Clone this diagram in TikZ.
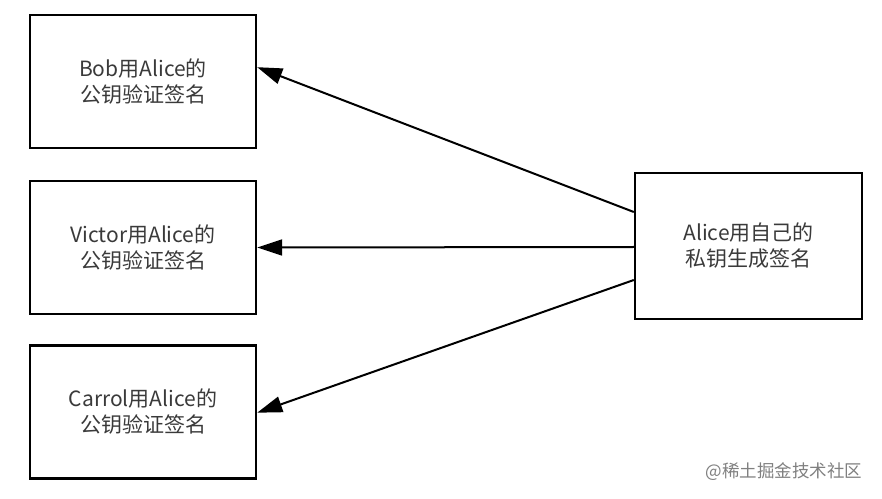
\documentclass[tikz,border=0pt]{standalone}
\usepackage{fontspec}
\usepackage{tikz}
\usetikzlibrary{arrows.meta}
\newfontfamily\cjk{Noto Sans CJK SC}
\definecolor{txtgray}{HTML}{3A3A3A}
\tikzset{
    sigbox/.style={draw, line width=2.4pt, minimum width=226pt, minimum height=133pt,
        align=center, text=txtgray, font=\cjk\fontsize{21}{26}\selectfont},
    sigarrow/.style={-{Triangle[length=25pt,width=16pt]}, line width=2pt}
}
\begin{document}
\begin{tikzpicture}[x=1pt, y=1pt]
    \useasboundingbox (0,0) rectangle (882,498);
    \fill [white] (0,0) rectangle (882,498);
    \node [sigbox] (bob) at (143,416.5) {Bob用Alice的\\公钥验证签名};
    \node [sigbox] (victor) at (143,250.5) {Victor用Alice的\\公钥验证签名};
    \node [sigbox] (carrol) at (143,86) {Carrol用Alice的\\公钥验证签名};
    \node [sigbox, minimum width=227pt, minimum height=146pt] (alice) at (748.5,252) {Alice用自己的\\私钥生成签名};
    \draw [sigarrow] ([yshift=34pt]alice.west) -- ([yshift=82pt]bob.south east);
    \draw [sigarrow] ([yshift=-1pt]alice.west) -- (victor.east);
    \draw [sigarrow] ([yshift=-34pt]alice.west) -- ([yshift=67pt]carrol.south east);
    \node [text=gray, font=\cjk\fontsize{17.5}{20}\selectfont, anchor=east] (mark) at (866,26) {@稀土掘金技术社区};
\end{tikzpicture}
\end{document}
